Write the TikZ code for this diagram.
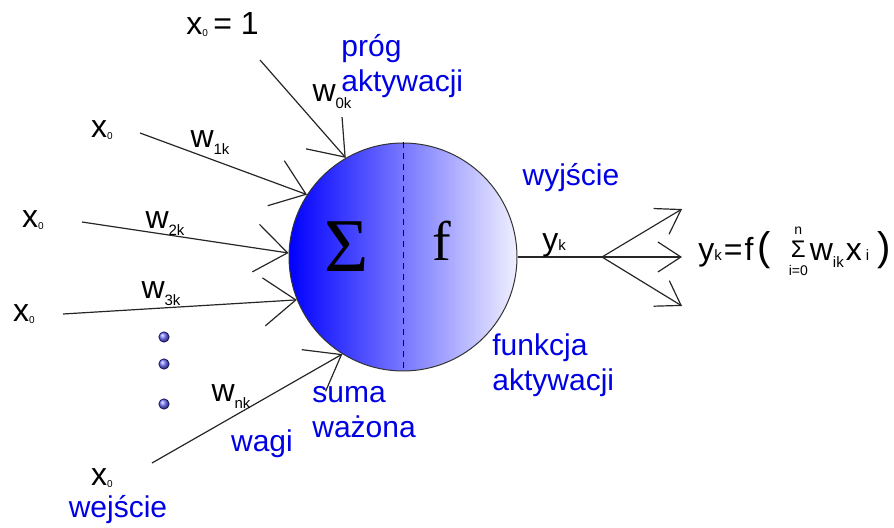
\documentclass[tikz,border=0pt]{standalone}
\usepackage{fontspec}
\setmainfont{Liberation Sans}
\newfontfamily\serifface{Liberation Serif}
\usetikzlibrary{arrows.meta, calc, positioning}

\newcommand{\zsub}[1]{\raisebox{-1pt}{\fontsize{5}{5}\selectfont #1}}
\newcommand{\wsub}[1]{\raisebox{-3.5pt}{\fontsize{7.5}{7.5}\selectfont #1}}
\newcommand{\ksub}[1]{{\fontsize{7.5}{7.5}\selectfont #1}}
\newcommand{\bigpar}[1]{{\fontsize{20}{20}\selectfont #1}}
\newcommand{\sumstack}{$\vcenter{\hbox{\fontsize{7}{8}\selectfont
    \begin{tabular}{@{}c@{}}n\\[1pt]{\fontsize{12}{12}\selectfont Σ}\\[1pt]i=0\end{tabular}}}$}

\begin{document}
\begin{tikzpicture}[
    x=0.5pt, y=-0.5pt,
    font=\fontsize{15}{17.5}\selectfont,
    inarrow/.style={-{Straight Barb[length=16pt,width=24pt]}, line width=0.6pt, black!85},
    outarrow/.style={-{Straight Barb[length=11.5pt,width=15pt]}, line width=0.6pt, black!85},
    wire/.style={line width=0.6pt, black!85},
    note/.style={text=blue!90!black, align=left, inner sep=0pt},
    sym/.style={inner sep=0pt, font=\fontsize{16}{16}\selectfont},
    dot/.style={ball color=blue!55, draw=blue!30!black, line width=0.3pt}
]
\useasboundingbox (0,0) rectangle (894,528);
%
\node[circle, minimum size=114pt, inner sep=0pt, draw=black!80, line width=0.5pt,
    left color=blue, right color=blue!6] (neuron) at (403,257) {};
\draw[blue!25!black, line width=0.5pt, dash pattern=on 3pt off 2.5pt]
    (neuron.north) -- (neuron.south);
\node[inner sep=0pt, font=\serifface\fontsize{38}{38}\selectfont] (sigma) at (347,247) {Σ};
\node[inner sep=0pt, font=\serifface\fontsize{28}{28}\selectfont] (func) at (442,241) {f};

% wejscia
\coordinate (src0) at (260,60);
\coordinate (src1) at (140,133);
\coordinate (src2) at (82,222);
\coordinate (src3) at (63,314);
\coordinate (srcn) at (152,463);
\draw[inarrow] (src0) -- (neuron.120);
\draw[inarrow] (src1) -- (neuron.147);
\draw[inarrow] (src2) -- (neuron.178);
\draw[inarrow] (src3) -- (neuron.202);
\draw[inarrow] (srcn) -- (neuron.238);

\node[sym, anchor=west] (xone) at (186,25) {x\zsub{0}\,= 1};
\node[sym] (xa) at (102,130) {x\zsub{0}};
\node[sym] (xb) at (33,220) {x\zsub{0}};
\node[sym] (xc) at (24,314) {x\zsub{0}};
\node[sym] (xn) at (102,478) {x\zsub{0}};

\node[sym] (w0) at (332,97) {w\wsub{0k}};
\node[sym] (w1) at (210,143) {w\wsub{1k}};
\node[sym] (w2) at (165,224) {w\wsub{2k}};
\node[sym] (w3) at (161,294) {w\wsub{3k}};
\node[sym] (wn) at (231,397) {w\wsub{nk}};

\shadedraw[dot] (164,337) circle[radius=2.6pt];
\shadedraw[dot] (164,364) circle[radius=2.6pt];
\shadedraw[dot] (164,404) circle[radius=2.6pt];

% wyjscie
\coordinate (fork) at (602,257);
\coordinate (outa) at (682,209);
\coordinate (outb) at (682,257);
\coordinate (outc) at (682,306);
\draw[wire] (neuron.east) -- (fork);
\draw[outarrow] (fork) -- (outa);
\draw[outarrow] (fork) -- (outb);
\draw[outarrow] (fork) -- (outc);
\node[sym] (yk) at (554,245) {y\ksub{k}};

\node[sym, anchor=west] (formula) at (698,252)
    {y\ksub{k}\hspace{1pt}=\hspace{1pt}f\hspace{2pt}\bigpar{(}\hspace{9pt}\sumstack\hspace{1pt}w\wsub{ik}\hspace{1pt}x\hspace{2pt}\ksub{i}\hspace{4pt}\bigpar{)}};

% opisy
\node[note, anchor=west] (prog) at (341,66) {próg\\aktywacji};
\node[note] (wyj) at (571,178) {wyjście};
\node[note, anchor=west] (fakt) at (492,365) {funkcja\\aktywacji};
\node[note, anchor=west] (suma) at (312,412) {suma\\ważona};
\node[note] (wagi) at (262,444) {wagi};
\node[note] (wej) at (118,510) {wejście};
\end{tikzpicture}
\end{document}
